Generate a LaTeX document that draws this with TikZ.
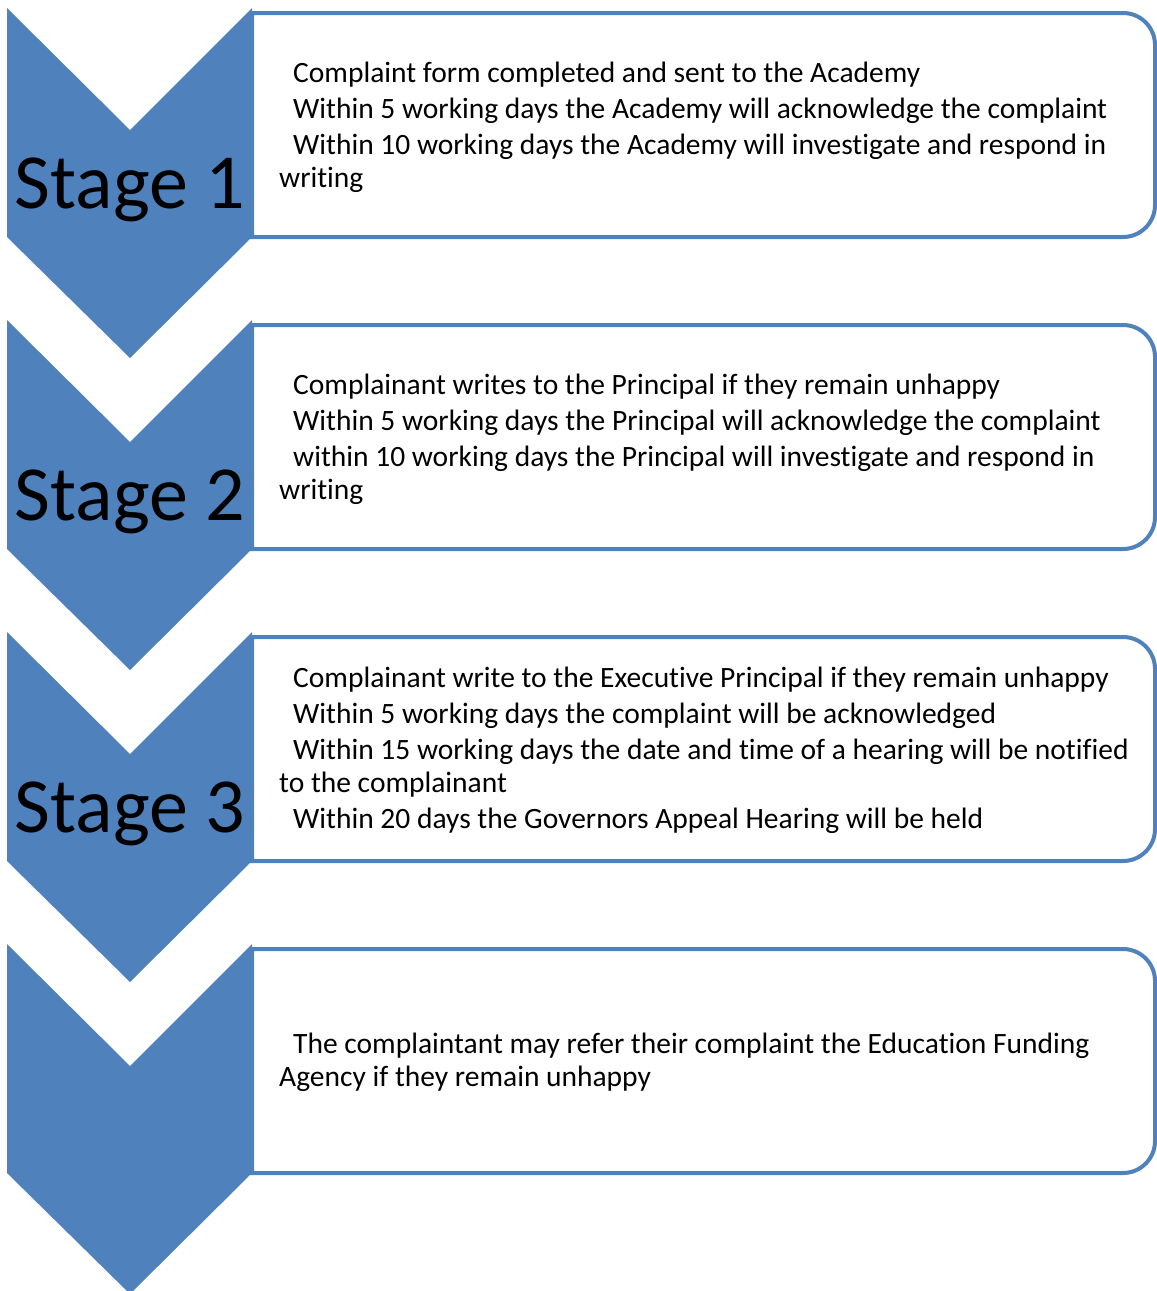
\documentclass[tikz,border=0pt]{standalone}
\usepackage{fontspec}
\setmainfont{Carlito}[Ligatures=CommonOff,RawFeature=-calt]
\definecolor{accent}{HTML}{4F81BD}
\newcommand{\ind}{\hspace*{14pt}}
\begin{document}
\begin{tikzpicture}[x=1pt,y=-1pt,
  chev/.style={fill=accent,draw=none},
  stepbox/.style={draw=accent,line width=4pt,fill=white},
  stagelbl/.style={font=\fontsize{78}{90}\selectfont,inner sep=0pt,anchor=center},
  bodytxt/.style={font=\fontsize{29.5}{33}\selectfont,align=left,anchor=west,inner sep=0pt}]
\useasboundingbox (0,0) rectangle (1157,1291);
\foreach \i in {0,1,2,3}{
  \pgfmathsetmacro{\t}{13+312*\i}
  \pgfmathsetmacro{\b}{237+312*\i}
  \draw[stepbox] (252,\t) -- (1123,\t) arc[start angle=-90,end angle=0,radius=32]
     -- (1155,\b-32) arc[start angle=0,end angle=90,radius=32] -- (252,\b) -- cycle;
  \pgfmathsetmacro{\y}{8+312*\i}
  \fill[chev] (7,\y) -- (130,\y+122) -- (252,\y) -- (252,\y+229) -- (130,\y+350) -- (7,\y+229) -- cycle;
}
\node[stagelbl] (s1) at (130,190) {Stage 1};
\node[stagelbl] (s2) at (130,502) {Stage 2};
\node[stagelbl] (s3) at (130,814) {Stage 3};
\node[bodytxt] (t1) at (279,127) {\ind Complaint form completed and sent to the Academy\\[3pt]
\ind Within 5 working days the Academy will acknowledge the complaint\\[3pt]
\ind Within 10 working days the Academy will investigate and respond in\\
writing};
\node[bodytxt] (t2) at (279,439) {\ind Complainant writes to the Principal if they remain unhappy\\[3pt]
\ind Within 5 working days the Principal will acknowledge the complaint\\[3pt]
\ind within 10 working days the Principal will investigate and respond in\\
writing};
\node[bodytxt] (t3) at (279,750) {\ind Complainant write to the Executive Principal if they remain unhappy\\[3pt]
\ind Within 5 working days the complaint will be acknowledged\\[3pt]
\ind Within 15 working days the date and time of a hearing will be notified\\
to the complainant\\[3pt]
\ind Within 20 days the Governors Appeal Hearing will be held};
\node[bodytxt] (t4) at (279,1062) {\ind The complaintant may refer their complaint the Education Funding\\
Agency if they remain unhappy};
\end{tikzpicture}
\end{document}
